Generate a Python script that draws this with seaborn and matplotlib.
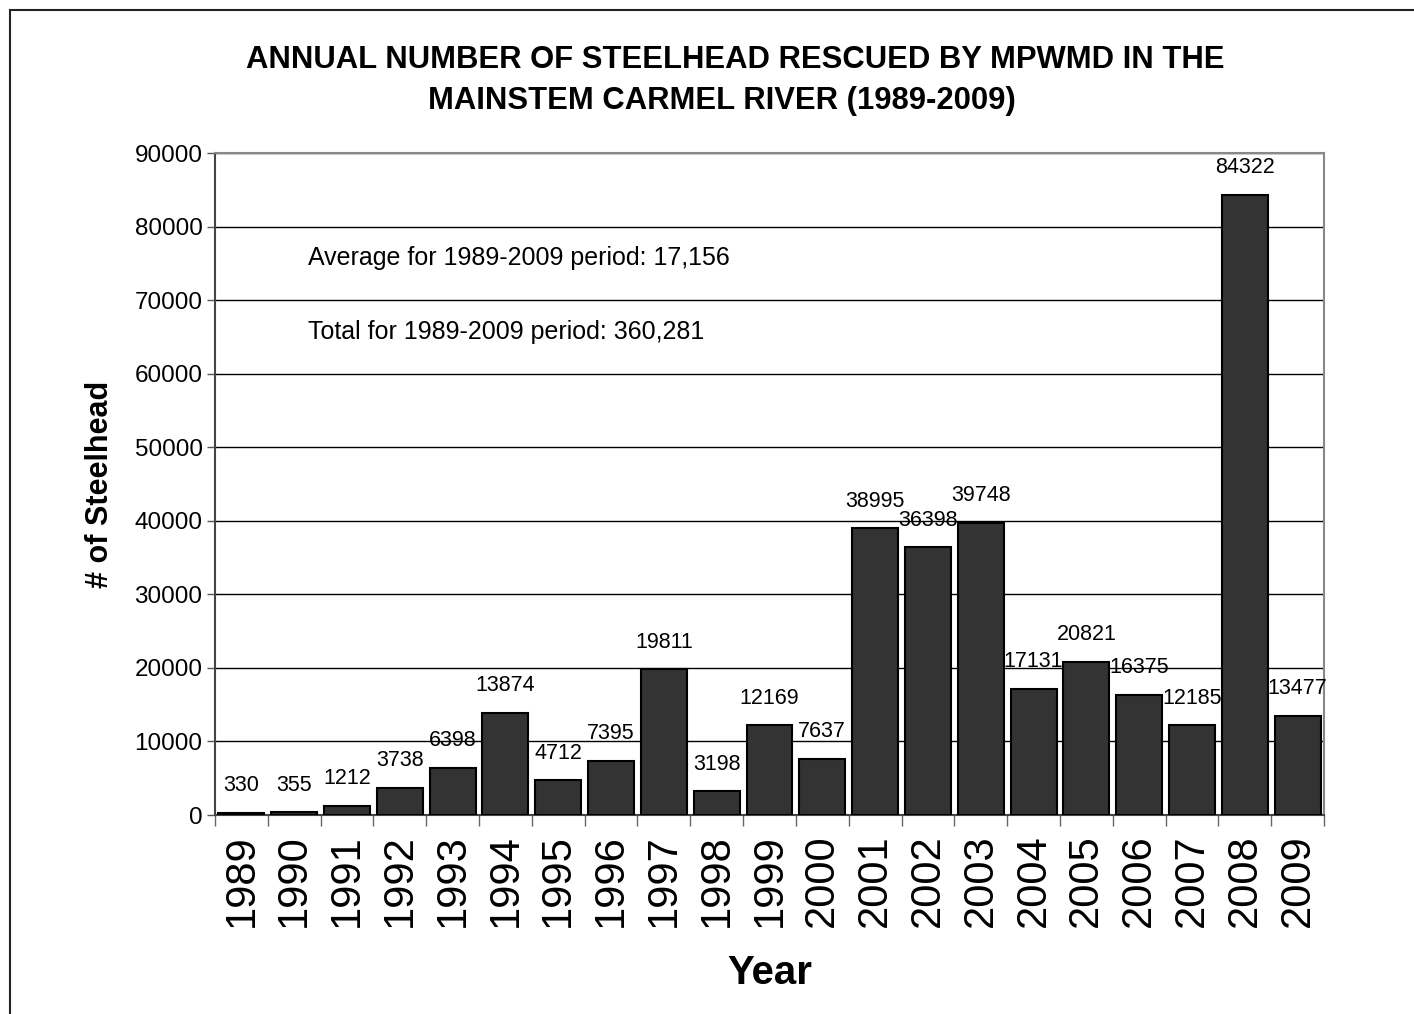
import matplotlib
matplotlib.use("Agg")
import matplotlib.pyplot as plt
import matplotlib.transforms as mtransforms
from matplotlib.patches import Rectangle
import seaborn as sns
import pandas as pd
import numpy as np

years = ["1989", "1990", "1991", "1992", "1993", "1994", "1995", "1996", "1997", "1998",
         "1999", "2000", "2001", "2002", "2003", "2004", "2005", "2006", "2007", "2008", "2009"]
rescued = [330, 355, 1212, 3738, 6398, 13874, 4712, 7395, 19811, 3198,
           12169, 7637, 38995, 36398, 39748, 17131, 20821, 16375, 12185, 84322, 13477]
title_lines = ["ANNUAL NUMBER OF STEELHEAD RESCUED BY MPWMD IN THE",
               "MAINSTEM CARMEL RIVER (1989-2009)"]
note_lines = ["Average for 1989-2009 period: 17,156", "Total for 1989-2009 period: 360,281"]
note_y = [75700, 65700]

df = pd.DataFrame({"Year": years, "Steelhead": rescued})

sns.set_theme(style="white")
plt.rcParams["font.family"] = ["Liberation Sans", "DejaVu Sans"]
plt.rcParams["text.color"] = "black"
plt.rcParams["axes.labelcolor"] = "black"

fig = plt.figure(figsize=(14.14, 10.14), dpi=100)
ax = fig.add_axes([215 / 1414, 1 - 815 / 1014, (1324 - 215) / 1414, (815 - 153) / 1014])

sns.barplot(data=df, x="Year", y="Steelhead", color="#333333", saturation=1,
            width=0.87, edgecolor="black", linewidth=1.5, ax=ax, zorder=3)

ax.set_ylim(0, 90000)
ax.set_xlim(-0.5, len(years) - 0.5)
ax.set_yticks(np.arange(0, 90001, 10000))
ax.yaxis.grid(True, color="black", linewidth=1.0, zorder=0)
ax.set_axisbelow(True)

ax.tick_params(axis="y", which="major", left=True, length=6, width=1, color="#555555",
               labelsize=17.5, pad=3, labelcolor="black")
ax.set_xticks(np.arange(len(years)))
ax.set_xticklabels(years, rotation=90)
ax.tick_params(axis="x", which="major", bottom=False, length=0, labelsize=30, pad=14,
               labelcolor="black")
ax.set_xticks(np.arange(-0.5, len(years)), minor=True)
ax.tick_params(axis="x", which="minor", bottom=True, length=8, width=1, color="#666666")

for side in ["top", "right"]:
    ax.spines[side].set_color("#888888")
    ax.spines[side].set_linewidth(1.5)
for side in ["left", "bottom"]:
    ax.spines[side].set_color("#444444")
    ax.spines[side].set_linewidth(1.5)

ax.set_xlabel("Year", fontsize=29, fontweight="bold", labelpad=19, color="black")
ax.set_ylabel("# of Steelhead", fontsize=22, fontweight="bold", labelpad=14, color="black")

for i, v in enumerate(rescued):
    ax.annotate(str(v), xy=(i, v), xytext=(0, 12), textcoords="offset points",
                ha="center", va="bottom", fontsize=15.5, color="black")

trans = mtransforms.blended_transform_factory(ax.transAxes, ax.transData)
for txt, yv in zip(note_lines, note_y):
    ax.text((308 - 215) / 1409 * 1414 / 1109 * 1409 / 1414, yv, txt, transform=trans,
            ha="left", va="center", fontsize=18, color="black")

fig.text(735 / 1414, 1 - 60 / 1014, title_lines[0], ha="center", va="center",
         fontsize=22.3, fontweight="bold", color="black")
fig.text(722 / 1414, 1 - 101 / 1014, title_lines[1], ha="center", va="center",
         fontsize=22.3, fontweight="bold", color="black")

fig.patches.append(Rectangle((10 / 1414, -0.1), 1.2, 1 - 10 / 1014 + 0.1,
                             transform=fig.transFigure, fill=False,
                             edgecolor="#222222", linewidth=1.5))

fig.savefig("out.png", dpi=100, facecolor="white")
